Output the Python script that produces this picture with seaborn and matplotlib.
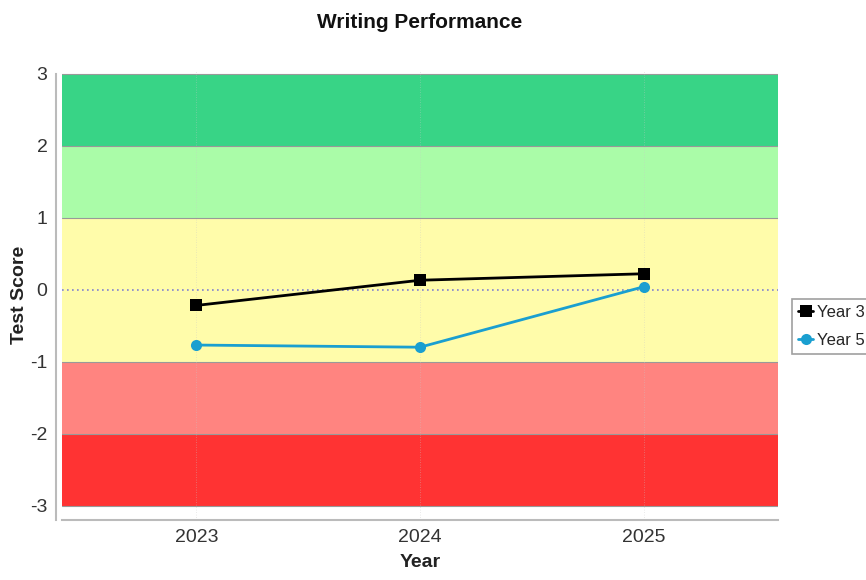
import matplotlib
matplotlib.use("Agg")
import matplotlib.pyplot as plt
import pandas as pd
import seaborn as sns

years = [2023, 2024, 2025]
year3_scores = [-0.22, 0.13, 0.22]
year5_scores = [-0.77, -0.80, 0.04]
series_names = ["Year 3", "Year 5"]
band_edges = [3, 2, 1, -1, -2, -3]
band_colors = ["#38d486", "#aafca8", "#fffcaa", "#ff8480", "#ff3333"]

sns.set_theme(style="white")
plt.rcParams["font.family"] = ["Liberation Sans", "DejaVu Sans"]
plt.rcParams["axes.unicode_minus"] = False

df = pd.DataFrame({
    "Year": years * 2,
    "Test Score": year3_scores + year5_scores,
    "Series": [series_names[0]] * 3 + [series_names[1]] * 3,
})

fig = plt.figure(figsize=(8.66, 5.8), dpi=100)
ax = fig.add_axes([62 / 866, 60 / 580, 716 / 866, 450 / 580])

# performance bands
for top, bottom, color in zip(band_edges[:-1], band_edges[1:], band_colors):
    ax.axhspan(bottom, top, color=color, zorder=0, lw=0)
for edge in band_edges:
    ax.axhline(edge, color="#999999", lw=0.8, zorder=1)
ax.axhline(0, color="#8080d0", lw=1.2, ls=(0, (1, 2)), zorder=1)
for yr in years:
    ax.axvline(yr, color="#c8c8c8", alpha=0.5, lw=0.6, ls=(0, (1, 2)), zorder=1)

sns.lineplot(data=df, x="Year", y="Test Score", hue="Series", style="Series",
             palette=["#000000", "#1a9fd0"], markers=["s", "o"], dashes=False,
             markersize=8, markeredgewidth=0, lw=2, ax=ax, zorder=3)

ax.set_xlim(2022.4, 2025.6)
ax.set_ylim(-3.2, 3.05)
ax.set_xticks(years)
ax.set_xticklabels([str(y) for y in years])
ax.set_yticks([3, 2, 1, 0, -1, -2, -3])
ax.tick_params(axis="both", labelsize=14, colors="#333333", length=3, color="#bbbbbb")
for s in ["top", "right"]:
    ax.spines[s].set_visible(False)
for s in ["left", "bottom"]:
    ax.spines[s].set_color("#bbbbbb")
    ax.spines[s].set_linewidth(1.5)
ax.spines["left"].set_position(("outward", 4))
ax.spines["left"].set_bounds(-3.2, 3.0)

ax.set_title("Writing Performance", fontsize=15, fontweight="bold", pad=30, color="#111111")
ax.set_xlabel("Year", fontsize=14, fontweight="bold", labelpad=6, color="#222222")
ax.set_ylabel("Test Score", fontsize=14, fontweight="bold", color="#222222")
ax.yaxis.set_label_coords(-0.048, 0.5)

leg = ax.legend(loc="center left", bbox_to_anchor=(1.02, 0.43), frameon=True,
                borderaxespad=0, fontsize=12, fancybox=False, handlelength=0.9,
                handletextpad=0.25, borderpad=0.35, labelspacing=0.8)
leg.get_frame().set_edgecolor("#888888")
leg.get_frame().set_linewidth(1.2)

fig.savefig("out.png", dpi=100)
